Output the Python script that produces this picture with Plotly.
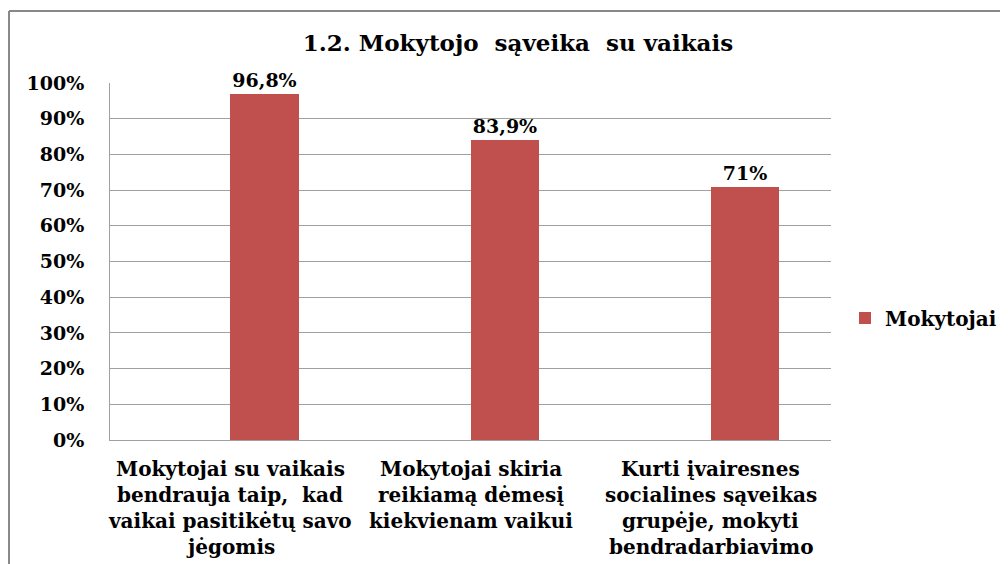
import plotly.graph_objects as go

categories = [
    "Mokytojai su vaikais<br>bendrauja taip,  kad<br>vaikai pasitikėtų savo<br>jėgomis",
    "Mokytojai skiria<br>reikiamą dėmesį<br>kiekvienam vaikui",
    "Kurti įvairesnes<br>socialines sąveikas<br>grupėje, mokyti<br>bendradarbiavimo",
]
values = [0.968, 0.839, 0.71]
value_labels = ["96,8%", "83,9%", "71%"]
series_name = "Mokytojai"
title_text = "1.2. Mokytojo  sąveika  su vaikais"

FONT = "DejaVu Serif"
BAR = "#C0504D"

# figure is placed 8px into the page by the body margin
W, H = 1000, 556
L, R, T, B = 102, 823, 75, 432
pw, ph = R - L, B - T


def px(x):
    return (x - L) / pw


def py(y):
    return (B - y) / ph


fig = go.Figure()
fig.add_trace(go.Bar(
    x=categories, y=values, name=series_name,
    marker=dict(color=BAR, line=dict(width=0)),
    width=0.285, offset=0.0,
    text=value_labels, textposition="outside", cliponaxis=False,
    textfont=dict(family=FONT, size=19, color="black", weight="bold"),
    showlegend=True,
))

fig.update_layout(
    width=W, height=H,
    margin=dict(l=L, r=W - R, t=T, b=H - B, autoexpand=False),
    paper_bgcolor="white", plot_bgcolor="white",
    font=dict(family=FONT, color="black"),
    title=dict(text=title_text, x=510 / W, xanchor="center", y=1 - 35 / H, yanchor="middle",
               yref="container", xref="container",
               font=dict(family=FONT, size=23, color="black", weight="bold")),
    legend=dict(x=px(837), y=py(310), xanchor="left", yanchor="middle",
                font=dict(family=FONT, size=20, color="black", weight="bold"),
                itemwidth=30, bgcolor="rgba(0,0,0,0)"),
    bargap=0.0,
    showlegend=True,
)
fig.update_xaxes(
    showgrid=False, showline=True, linecolor="#A0A0A0", linewidth=1,
    showticklabels=False, ticks="", range=[-0.5, 2.5],
)
fig.update_yaxes(
    range=[0, 1], dtick=0.1, tickformat=".0%",
    showgrid=True, gridcolor="#A0A0A0", gridwidth=1,
    showline=True, linecolor="#A0A0A0", linewidth=1,
    zeroline=False, ticks="", ticklabelstandoff=21,
    tickfont=dict(family=FONT, size=19, color="black", weight="bold"),
)

# category labels, one line per annotation to keep the tight line spacing
for cat in categories:
    for i, line in enumerate(cat.split("<br>")):
        fig.add_annotation(
            x=cat, xref="x", y=py(461 + 26 * i), yref="paper",
            text=line, showarrow=False, xanchor="center", yanchor="middle",
            font=dict(family=FONT, size=20, color="black", weight="bold"),
        )

# outer chart border
fig.add_shape(type="line", xref="paper", yref="paper",
              x0=px(1), x1=px(1), y0=py(570), y1=py(3),
              line=dict(color="#888888", width=2))
fig.add_shape(type="line", xref="paper", yref="paper",
              x0=px(1), x1=px(1010), y0=py(3), y1=py(3),
              line=dict(color="#888888", width=2))

fig.write_html("out.html")
